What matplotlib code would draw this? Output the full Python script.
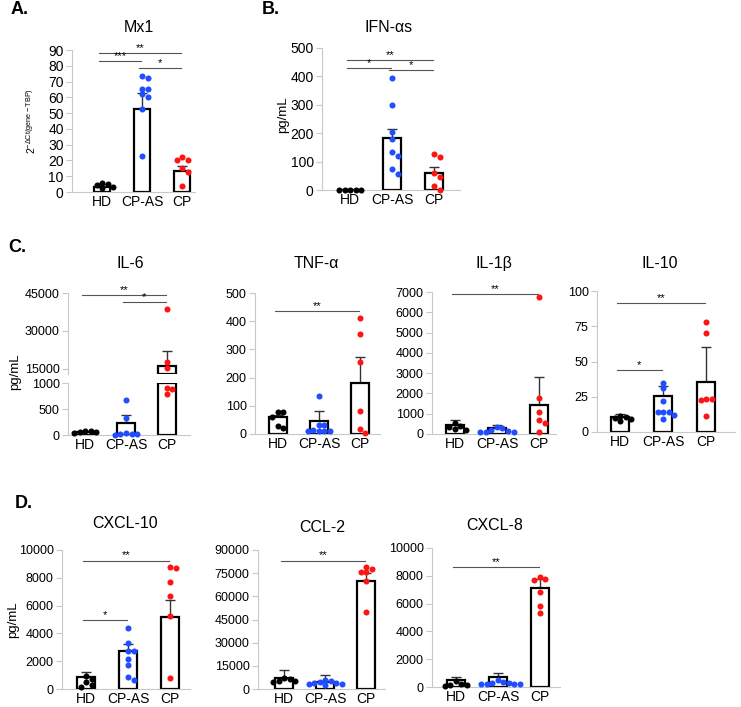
import numpy as np
import matplotlib
matplotlib.use("Agg")
import matplotlib.pyplot as plt

plt.rcParams['font.family'] = ['Liberation Sans', 'DejaVu Sans']

W, H = 741, 707
groups = ['HD', 'CP-AS', 'CP']
colors = ['black', '#1f4dff', '#ff1414']

# ---- data ----
mx1_hd = [6.0, 4.8, 4.5, 3.0, 2.5]
mx1_cpas = [73.5, 72.0, 65.0, 65.5, 62.0, 60.0, 52.5, 23.0]
mx1_cp = [22.5, 20.5, 20.5, 15.5, 12.5, 3.5]
mx1_mean = [3.3, 52.5, 13.2]
mx1_top = [5.0, 63.0, 16.5]
mx1_sig = [(0, 2, 88, '**'), (0, 1, 83, '***'), (1, 2, 78.5, '*')]

ifn_hd = [0, 0, 0, 0, 0]
ifn_cpas = [394, 299, 204, 179, 134, 119, 73, 58]
ifn_cp = [128, 115, 60, 45, 15, 0]
ifn_mean = [0, 182, 60]
ifn_top = [0, 216, 81]
ifn_sig = [(0, 2, 458, '**'), (0, 1, 430, '*'), (1, 2, 423, '*')]

il6_hd = [85, 75, 60, 50, 40]
il6_cpas = [680, 320, 30, 20, 15, 10, 5]
il6_cp = [38800, 17700, 15300, 900, 880, 780]
il6_mean = [65, 225, 16200]
il6_top = [80, 390, 22200]
il6_sig = [(0, 2, 44200, '**'), (1, 2, 41500, '*')]

tnf_hd = [77, 77, 60, 27, 21]
tnf_cpas = [136, 33, 33, 15, 10, 9, 9, 9]
tnf_cp = [410, 355, 255, 80, 18, 5]
tnf_mean = [59, 47, 181]
tnf_top = [66, 83, 272]
tnf_sig = [(0, 2, 435, '**')]

il1b_hd = [520, 400, 330, 230, 180]
il1b_cpas = [330, 300, 200, 160, 120, 100, 90]
il1b_cp = [6760, 1776, 1070, 707, 543, 100]
il1b_mean = [460, 296, 1430]
il1b_top = [675, 460, 2810]
il1b_sig = [(0, 2, 6920, '**')]

il10_hd = [11.5, 10.5, 10, 9, 7.5]
il10_cpas = [35, 31, 22, 14.5, 14, 14.2, 12, 9.5]
il10_cp = [78, 70, 23.5, 23.5, 22.5, 11.5]
il10_mean = [10.3, 25.4, 35.5]
il10_top = [13, 32.5, 60.5]
il10_sig = [(0, 2, 91.7, '**'), (0, 1, 43.8, '*')]

cxcl10_hd = [950, 700, 480, 300, 150]
cxcl10_cpas = [4357, 3310, 2740, 2740, 2140, 1740, 830, 640]
cxcl10_cp = [8760, 8690, 7670, 6710, 5240, 790]
cxcl10_mean = [830, 2760, 5190]
cxcl10_top = [1240, 3240, 6380]
cxcl10_sig = [(0, 2, 9240, '**'), (0, 1, 4930, '*')]

ccl2_hd = [7200, 6500, 5500, 5000, 4300]
ccl2_cpas = [6000, 5000, 4500, 4200, 3800, 3500, 3000, 2500]
ccl2_cp = [79000, 77500, 76000, 75500, 70000, 50000]
ccl2_mean = [7250, 4500, 69700]
ccl2_top = [12150, 8960, 75000]
ccl2_sig = [(0, 2, 83200, '**')]

cxcl8_hd = [400, 250, 150, 120, 100]
cxcl8_cpas = [520, 360, 310, 280, 250, 230, 200, 180]
cxcl8_cp = [7940, 7770, 7700, 6800, 5850, 5330]
cxcl8_mean = [474, 711, 7110]
cxcl8_top = [711, 995, 7800]
cxcl8_sig = [(0, 2, 8650, '**')]

fig = plt.figure(figsize=(W / 100, H / 100), dpi=100)


def add_ax(x0, x1, ytop, ybot):
    return fig.add_axes([x0 / W, 1 - ybot / H, (x1 - x0) / W, (ybot - ytop) / H])


def ftext(x, y, s, **kw):
    fig.text(x / W, 1 - y / H, s, **kw)


def swarm(vals, ppu, sp, d=5.5):
    # simple beeswarm in pixel space, returns x offsets in category units
    vals = np.asarray(vals, float)
    offs = np.zeros(len(vals))
    placed = []
    for k in np.argsort(-vals, kind='stable'):
        y = vals[k] * ppu
        for j in range(40):
            c = ((j + 1) // 2) * d * (1 if j % 2 else -1)
            if all((c - px) ** 2 + (y - py) ** 2 >= (0.95 * d) ** 2 for px, py in placed):
                break
        placed.append((c, y))
        offs[k] = c / sp
    return offs


def style(ax, yticks, fs, bottom=True):
    for s in ['top', 'right']:
        ax.spines[s].set_visible(False)
    for s in ['left', 'bottom']:
        ax.spines[s].set_color('#c8c8c8')
        ax.spines[s].set_linewidth(0.8)
    ax.set_yticks(yticks)
    ax.tick_params(axis='y', colors='#c8c8c8', labelcolor='black', length=4,
                   width=0.8, labelsize=fs, pad=2)
    if bottom:
        ax.set_xticks(range(3))
        ax.set_xticklabels(groups)
        ax.tick_params(axis='x', length=0, labelsize=10, pad=2)
    else:
        ax.spines['bottom'].set_visible(False)
        ax.set_xticks([])


def draw(ax, pts, means, tops, ppu, sp, lo, hi):
    for i in range(3):
        m, t = means[i], tops[i]
        if m >= lo:
            ax.bar(i, min(m, hi) - lo, bottom=lo, width=0.42, color='white',
                   edgecolor='black', lw=1.6, zorder=2)
        if t > m and lo <= t <= hi:
            ax.errorbar(i, m, yerr=[[0], [t - m]], fmt='none', ecolor='#333333',
                        elinewidth=1, capsize=3.5, capthick=1, zorder=1.5)
        v = np.array([p for p in pts[i] if lo <= p <= hi], float)
        if len(v):
            off = swarm(v - lo, ppu, sp)
            ax.scatter(i + off, v, s=19, color=colors[i], lw=0, zorder=4, clip_on=False)


def sig_lines(ax, sig, fs=8):
    for i, j, y, lab in sig:
        ax.plot([i - 0.08, j - 0.02], [y, y], color='#555555', lw=0.8,
                clip_on=False, zorder=3)
        ax.annotate(lab, ((i + j) / 2 - 0.05, y), xytext=(0, 0), textcoords='offset points',
                    ha='center', va='bottom', fontsize=fs)


def panel(geom, title, pts, means, tops, yticks, sig, fs=9):
    x0, x1, ytop, ybot, c0, sp, ty = geom
    ax = add_ax(x0, x1, ytop, ybot)
    ax.set_xlim((x0 - c0) / sp, (x1 - c0) / sp)
    ax.set_ylim(yticks[0], yticks[-1])
    style(ax, yticks, fs)
    ppu = (ybot - ytop) / (yticks[-1] - yticks[0])
    draw(ax, pts, means, tops, ppu, sp, yticks[0], yticks[-1])
    sig_lines(ax, sig)
    ftext(c0 + sp - 3, ty, title, ha='center', va='center', fontsize=11.5)
    return ax


# ---- A / B ----
panel((72, 195, 50, 192, 102, 40, 27), 'Mx1', [mx1_hd, mx1_cpas, mx1_cp],
      mx1_mean, mx1_top, list(range(0, 91, 10)), mx1_sig, fs=10)
ftext(31, 121, r'2$^{\mathregular{-ΔCt(gene-TBP)}}$', rotation=90,
      ha='center', va='center', fontsize=7.5)

panel((322, 460, 48, 190, 350, 42, 27), 'IFN-αs', [ifn_hd, ifn_cpas, ifn_cp],
      ifn_mean, ifn_top, list(range(0, 501, 100)), ifn_sig, fs=10)
ftext(283, 115, 'pg/mL', rotation=90, ha='center', va='center', fontsize=9.5)

# ---- C ----
# IL-6 with broken y axis
x0, x1, c0, sp = 68, 190, 85, 41
il6_pts = [il6_hd, il6_cpas, il6_cp]
ax_up = add_ax(x0, x1, 293, 374)
ax_up.set_xlim((x0 - c0) / sp, (x1 - c0) / sp)
ax_up.set_ylim(13000, 45000)
style(ax_up, [15000, 30000, 45000], 9, bottom=False)
draw(ax_up, il6_pts, il6_mean, il6_top, 81 / 32000, sp, 13000, 45000)
sig_lines(ax_up, il6_sig)
ax_lo = add_ax(x0, x1, 383, 435)
ax_lo.set_xlim((x0 - c0) / sp, (x1 - c0) / sp)
ax_lo.set_ylim(0, 1000)
style(ax_lo, [0, 500, 1000], 9)
draw(ax_lo, il6_pts, il6_mean, il6_top, 52 / 1000, sp, 0, 1000)
ftext(c0 + sp + 4, 263, 'IL-6', ha='center', va='center', fontsize=11.5)
ftext(15, 372, 'pg/mL', rotation=90, ha='center', va='center', fontsize=9.5)

panel((255, 380, 293, 434, 278, 41, 263), 'TNF-α', [tnf_hd, tnf_cpas, tnf_cp],
      tnf_mean, tnf_top, list(range(0, 501, 100)), tnf_sig)
panel((432, 556, 292, 434, 455, 42, 263), 'IL-1β', [il1b_hd, il1b_cpas, il1b_cp],
      il1b_mean, il1b_top, list(range(0, 7001, 1000)), il1b_sig)
panel((597, 735, 291, 432, 620, 43, 263), 'IL-10', [il10_hd, il10_cpas, il10_cp],
      il10_mean, il10_top, [0, 25, 50, 75, 100], il10_sig)

# ---- D ----
panel((62, 190, 550, 689, 86, 42, 523), 'CXCL-10', [cxcl10_hd, cxcl10_cpas, cxcl10_cp],
      cxcl10_mean, cxcl10_top, list(range(0, 10001, 2000)), cxcl10_sig)
ftext(13, 620, 'pg/mL', rotation=90, ha='center', va='center', fontsize=9.5)
panel((258, 385, 550, 689, 284, 41, 527), 'CCL-2', [ccl2_hd, ccl2_cpas, ccl2_cp],
      ccl2_mean, ccl2_top, list(range(0, 90001, 15000)), ccl2_sig)
panel((432, 560, 548, 687, 456, 42, 525), 'CXCL-8', [cxcl8_hd, cxcl8_cpas, cxcl8_cp],
      cxcl8_mean, cxcl8_top, list(range(0, 10001, 2000)), cxcl8_sig)

# panel letters
for lab, x, y in [('A.', 11, 9), ('B.', 262, 9), ('C.', 8, 248), ('D.', 15, 503)]:
    ftext(x, y, lab, fontsize=13, fontweight='bold', ha='left', va='center')

fig.savefig('out.png', dpi=100)
